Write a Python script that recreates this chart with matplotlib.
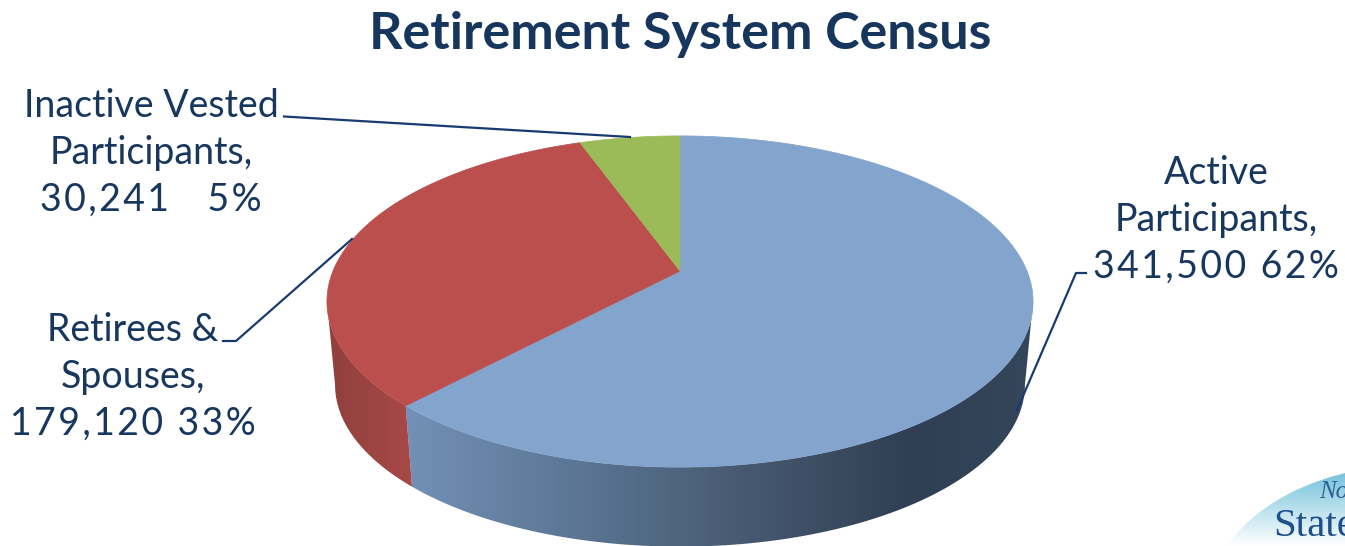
import matplotlib

matplotlib.use("Agg")
import matplotlib.pyplot as plt
import numpy as np
from matplotlib.colors import LinearSegmentedColormap
from matplotlib.patches import Ellipse, Polygon

TITLE = "Retirement System Census"
CATEGORIES = ["Active\nParticipants,", "Retirees &\nSpouses,", "Inactive Vested\nParticipants,"]
COUNTS = [341500, 179120, 30241]
PERCENT_TEXT = ["341,500 62%", "179,120 33%", "30,241   5%"]

TEXT_COLOR = "#17375e"
LINE_COLOR = "#1a3b70"
TOP_COLORS = ["#82a4cd", "#bb4f4e", "#9bbb59"]

# tilted pie: cx, apex y, radius, perspective, side depth, shrink of the lower rim
CX, CY, RADIUS, LIFT, PERSP, DEPTH, SHRINK = 680, 271, 347, 160, 0.1843, 84, 0.977


def project(theta, lower=False):
    """Clockwise angle from 12 o'clock to pixel position on the tilted disc."""
    u, v = np.sin(theta), np.cos(theta)
    w = 1 + PERSP * v
    scale = SHRINK if lower else 1.0
    x = CX + scale * RADIUS * u / w
    y = CY + (DEPTH if lower else 0) - scale * LIFT * v / w
    return np.column_stack([x, y])


def side_wall(ax, start, stop, stops, x0, x1):
    theta = np.linspace(start, stop, 120)
    outline = np.vstack([project(theta), project(theta[::-1], lower=True)])
    clip = Polygon(outline, closed=True, transform=ax.transData, fc="none", ec="none")
    ax.add_patch(clip)
    cmap = LinearSegmentedColormap.from_list("wall", stops)
    img = ax.imshow(
        np.linspace(0, 1, 256)[None, :],
        extent=(x0, x1, 546, 0),
        cmap=cmap,
        aspect="auto",
        zorder=1,
    )
    img.set_clip_path(clip)


fig = plt.figure(figsize=(13.45, 5.46), dpi=100)
ax = fig.add_axes([0, 0, 1, 1])

# slice edges come straight from the counts
fractions = np.array(COUNTS) / sum(COUNTS)
edges = np.concatenate([[0], np.cumsum(fractions)]) * 2 * np.pi

# the rim is visible between the two silhouette angles
right_sil = np.arccos(-PERSP)
left_sil = 2 * np.pi - right_sil

side_wall(
    ax,
    right_sil,
    edges[1],
    [(0, "#7390b6"), (0.25, "#5d7897"), (0.55, "#46586f"), (0.8, "#303f53"), (1, "#34465b")],
    405,
    1035,
)
side_wall(ax, edges[1], left_sil, [(0, "#8f3f3d"), (1, "#a84a47")], 325, 415)

for start, stop, color in zip(edges[:-1], edges[1:], TOP_COLORS):
    arc = project(np.linspace(start, stop, 200))
    ax.add_patch(
        Polygon(np.vstack([[CX, CY], arc]), closed=True, fc=color, ec=color, lw=0.5, zorder=2)
    )

# leader lines
ax.plot([284, 630], [116.5, 137], color=LINE_COLOR, lw=1.6, zorder=3)
ax.plot([223, 236, 352], [341, 341, 239], color=LINE_COLOR, lw=1.6, zorder=3)
ax.plot([1086, 1076, 1017], [273, 273, 410], color=LINE_COLOR, lw=1.6, zorder=3)

ax.text(680, 35, TITLE, ha="center", va="center", fontsize=37.5, fontweight="bold",
        family="Lato", color="#17365d")

label_pos = [(1216, 220), (133, 377), (151, 153)]
for cat, pct, (x, y) in zip(CATEGORIES, PERCENT_TEXT, label_pos):
    # figures run wider than the words, so open them up with hair spaces
    spaced = "\u200a".join(pct)
    ax.text(x, y, f"{cat}\n{spaced}", ha="center", va="center", ma="center", fontsize=27,
            family=["Lato", "DejaVu Sans"], color=TEXT_COLOR, linespacing=1.365, zorder=4)

# corner logo, cut off by the figure edge
logo = Ellipse((1420, 600), 420, 272, fc="none", ec="none")
ax.add_patch(logo)
fade = LinearSegmentedColormap.from_list("logo", ["#74c2db", "#ffffff"])
im = ax.imshow(np.linspace(0, 1, 128)[:, None], extent=(1220, 1345, 546, 472), cmap=fade,
               aspect="auto", zorder=1)
im.set_clip_path(logo)
ax.text(1319, 492, "No", fontsize=18, style="italic", family="Liberation Serif",
        color="#2f5f93", va="center", clip_on=True)
ax.text(1273, 526, "State", fontsize=29.5, family="Liberation Serif", color="#1d4f8c",
        va="center", clip_on=True)

ax.set_xlim(0, 1345)
ax.set_ylim(546, 0)
ax.axis("off")

fig.savefig("out.png", dpi=100)
